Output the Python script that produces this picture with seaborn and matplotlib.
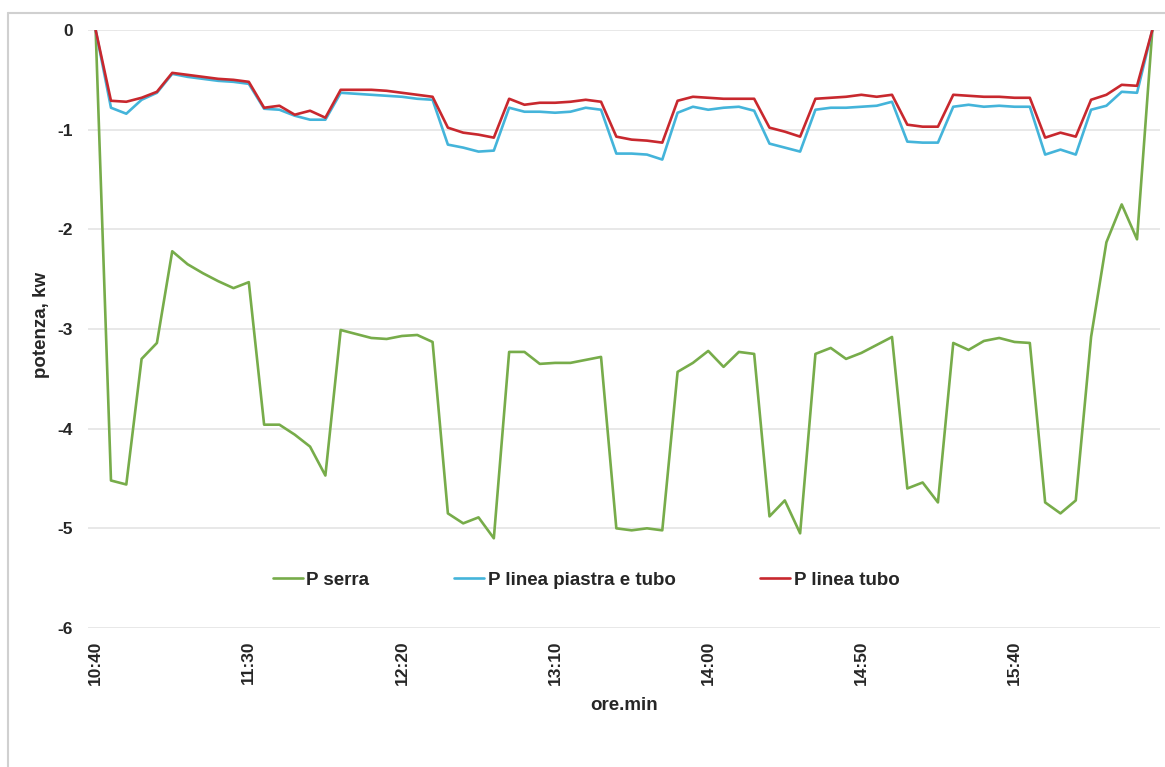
import matplotlib
matplotlib.use("Agg")
import matplotlib.pyplot as plt
from matplotlib.lines import Line2D
import seaborn as sns
import pandas as pd

# letture ogni 5 minuti, dalle 10:40
p_serra = [0, -4.52, -4.56, -3.30, -3.14, -2.22, -2.35, -2.44, -2.52, -2.59,
           -2.53, -3.96, -3.96, -4.06, -4.18, -4.47, -3.01, -3.05, -3.09, -3.10,
           -3.07, -3.06, -3.13, -4.85, -4.95, -4.89, -5.10, -3.23, -3.23, -3.35,
           -3.34, -3.34, -3.31, -3.28, -5.00, -5.02, -5.00, -5.02, -3.43, -3.34,
           -3.22, -3.38, -3.23, -3.25, -4.88, -4.72, -5.05, -3.25, -3.19, -3.30,
           -3.24, -3.16, -3.08, -4.60, -4.54, -4.74, -3.14, -3.21, -3.12, -3.09,
           -3.13, -3.14, -4.74, -4.85, -4.72, -3.08, -2.13, -1.75, -2.10, 0]
p_piastra_tubo = [0, -0.78, -0.84, -0.70, -0.63, -0.44, -0.47, -0.49, -0.51, -0.52,
                  -0.54, -0.79, -0.80, -0.86, -0.90, -0.90, -0.63, -0.64, -0.65, -0.66,
                  -0.67, -0.69, -0.70, -1.15, -1.18, -1.22, -1.21, -0.78, -0.82, -0.82,
                  -0.83, -0.82, -0.78, -0.80, -1.24, -1.24, -1.25, -1.30, -0.83, -0.77,
                  -0.80, -0.78, -0.77, -0.81, -1.14, -1.18, -1.22, -0.80, -0.78, -0.78,
                  -0.77, -0.76, -0.72, -1.12, -1.13, -1.13, -0.77, -0.75, -0.77, -0.76,
                  -0.77, -0.77, -1.25, -1.20, -1.25, -0.80, -0.76, -0.62, -0.63, 0]
p_tubo = [0, -0.71, -0.72, -0.68, -0.62, -0.43, -0.45, -0.47, -0.49, -0.50,
          -0.52, -0.78, -0.76, -0.85, -0.81, -0.88, -0.60, -0.60, -0.60, -0.61,
          -0.63, -0.65, -0.67, -0.98, -1.03, -1.05, -1.08, -0.69, -0.75, -0.73,
          -0.73, -0.72, -0.70, -0.72, -1.07, -1.10, -1.11, -1.13, -0.71, -0.67,
          -0.68, -0.69, -0.69, -0.69, -0.98, -1.02, -1.07, -0.69, -0.68, -0.67,
          -0.65, -0.67, -0.65, -0.95, -0.97, -0.97, -0.65, -0.66, -0.67, -0.67,
          -0.68, -0.68, -1.08, -1.03, -1.07, -0.70, -0.65, -0.55, -0.56, 0]

series_names = ["P serra", "P linea piastra e tubo", "P linea tubo"]
series_colors = ["#77AC4A", "#44B4DA", "#C8282E"]
tick_labels = ["10:40", "11:30", "12:20", "13:10", "14:00", "14:50", "15:40"]
y_ticks = [0, -1, -2, -3, -4, -5, -6]

times = list(pd.date_range("2000-01-01 10:40", periods=len(p_serra), freq="5min").strftime("%H:%M"))

frames = []
for name, vals in zip(series_names, [p_serra, p_piastra_tubo, p_tubo]):
    frames.append(pd.DataFrame({"idx": range(len(vals)), "ora": times, "valore": vals, "serie": name}))
df = pd.concat(frames, ignore_index=True)

sns.set_style("white")
plt.rcParams["font.family"] = ["Liberation Sans", "DejaVu Sans"]
plt.rcParams["axes.unicode_minus"] = False

W, H = 1165, 767
fig = plt.figure(figsize=(W / 100, H / 100), dpi=100)
ax = fig.add_axes([88 / W, 1 - 628 / H, (1160 - 88) / W, (628 - 30) / H])

sns.lineplot(data=df, x="idx", y="valore", hue="serie", hue_order=series_names,
             palette=dict(zip(series_names, series_colors)), linewidth=1.9,
             legend=False, ax=ax)

ax.set_xlim(-0.5, len(p_serra) - 0.5)
ax.set_ylim(-6, 0)
ax.set_yticks(y_ticks)
ax.set_yticklabels([str(v) for v in y_ticks], fontweight="bold", fontsize=12.5)
ax.set_xticks([times.index(t) for t in tick_labels])
ax.set_xticklabels(tick_labels, rotation=90, fontweight="bold", fontsize=12.5)
ax.tick_params(axis="y", length=0, pad=11)
ax.tick_params(axis="x", length=0, pad=9)
ax.yaxis.grid(True, color="#E4E4E4", linewidth=1.2)
ax.set_axisbelow(True)
for s in ax.spines.values():
    s.set_visible(False)

ax.set_xlabel("")
ax.set_ylabel("")
fig.text(624 / W, 1 - 706 / H, "ore.min", ha="center", va="center",
         fontweight="bold", fontsize=13.5)
fig.text(41 / W, 1 - 325 / H, "potenza, kw", ha="center", va="center",
         rotation=90, fontweight="bold", fontsize=13.5)

handles = [Line2D([], [], color=c, linewidth=1.9) for c in series_colors]
leg = ax.legend(handles, series_names, loc="center", ncol=3, frameon=False,
                bbox_to_anchor=((586 - 88) / 1072, (628 - 580) / 598),
                handlelength=1.6, handletextpad=0.2, columnspacing=4.5,
                prop={"weight": "bold", "size": 13.5})

# cornice grigia del grafico
fig.add_artist(Line2D([8 / W, 1.0], [1 - 13 / H] * 2, color="#D0D0D0", linewidth=1.5))
fig.add_artist(Line2D([8 / W] * 2, [0, 1 - 13 / H], color="#D0D0D0", linewidth=1.5))

fig.savefig("out.png", dpi=100, facecolor="white")
